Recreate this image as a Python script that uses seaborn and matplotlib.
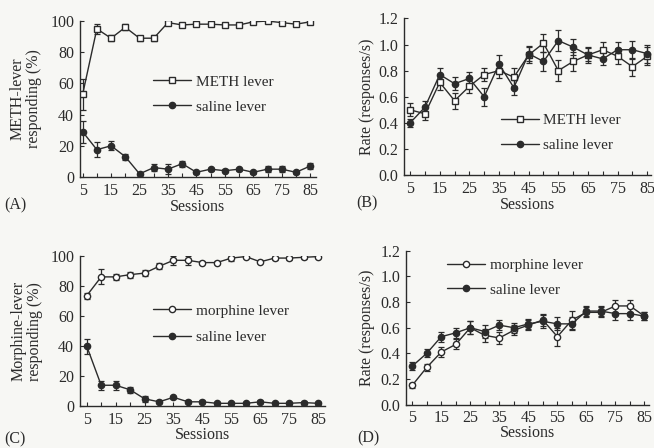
import numpy as np
import pandas as pd
import matplotlib
matplotlib.use("Agg")
import matplotlib.pyplot as plt
from matplotlib.lines import Line2D
import seaborn as sns

sns.set_theme(style="ticks")
plt.rcParams['font.family'] = ['Liberation Serif', 'DejaVu Serif']

sessions = [5, 10, 15, 20, 25, 30, 35, 40, 45, 50, 55, 60, 65, 70, 75, 80, 85]
tick_labels = [5, 15, 25, 35, 45, 55, 65, 75, 85]

# Panel A: METH discrimination, % responding
a_meth = [53, 95, 89, 96, 89, 89, 99, 97.5, 98, 98, 97.5, 97.5, 99.5, 100, 99, 98, 99.5]
a_meth_err = [10, 3, 2, 2, 1.5, 2, 1.5, 1, 1, 1, 1, 1, 1, 1, 1, 1, 1]
a_sal = [29, 17.5, 20, 13, 2, 6, 5, 8.5, 3, 5, 4, 5, 3, 5, 5, 3, 7]
a_sal_err = [7, 5, 3, 2, 1, 2, 3, 2, 1, 1, 1, 1, 1, 2, 2, 1, 2]

# Panel B: METH discrimination, rate
b_meth = [0.50, 0.47, 0.71, 0.57, 0.68, 0.77, 0.80, 0.75, 0.92, 1.01, 0.80, 0.87, 0.92, 0.96, 0.91, 0.83, 0.91]
b_meth_err = [0.05, 0.05, 0.06, 0.06, 0.05, 0.05, 0.06, 0.07, 0.06, 0.07, 0.08, 0.07, 0.05, 0.06, 0.06, 0.07, 0.07]
b_sal = [0.40, 0.52, 0.77, 0.70, 0.74, 0.60, 0.85, 0.67, 0.93, 0.87, 1.03, 0.98, 0.92, 0.89, 0.96, 0.96, 0.93]
b_sal_err = [0.03, 0.05, 0.05, 0.05, 0.05, 0.07, 0.07, 0.06, 0.06, 0.07, 0.08, 0.06, 0.06, 0.05, 0.06, 0.07, 0.07]

# Panel C: morphine discrimination, % responding
c_mor = [73.5, 86, 86, 87.5, 88.5, 93, 97, 97, 95.5, 95.5, 98.5, 99.5, 96, 98.5, 98.5, 99, 99.5]
c_mor_err = [2, 5, 2, 2, 2, 2, 3, 3, 1, 1, 2, 1, 1, 1, 1, 1, 1]
c_sal = [40, 14, 14, 11, 5, 3, 6, 3, 3, 2, 2, 2, 3, 2, 2, 2.5, 2]
c_sal_err = [5, 3, 3, 2, 2, 1, 1, 1, 1, 1, 1, 1, 1, 1, 1, 1, 1]

# Panel D: morphine discrimination, rate
d_mor = [0.15, 0.29, 0.41, 0.47, 0.60, 0.54, 0.52, 0.58, 0.62, 0.66, 0.53, 0.66, 0.72, 0.72, 0.77, 0.77, 0.69]
d_mor_err = [0.02, 0.03, 0.04, 0.04, 0.05, 0.05, 0.05, 0.04, 0.04, 0.05, 0.07, 0.07, 0.04, 0.04, 0.05, 0.05, 0.03]
d_sal = [0.30, 0.40, 0.53, 0.56, 0.60, 0.57, 0.62, 0.60, 0.63, 0.65, 0.63, 0.63, 0.73, 0.73, 0.71, 0.71, 0.69]
d_sal_err = [0.03, 0.03, 0.04, 0.04, 0.05, 0.05, 0.04, 0.04, 0.04, 0.05, 0.05, 0.05, 0.04, 0.04, 0.05, 0.05, 0.03]

INK = '#2b2b2b'
BG = '#f7f7f4'
MS = 4.5

fig = plt.figure(figsize=(6.54, 4.48), dpi=100, facecolor=BG)

def panel(rect, drug, drug_label, drug_err, sal, sal_err, drug_marker, ylim, yticks,
          yfmt, ylabel, ylab_x, letter, letter_x, letter_y, leg_anchor, leg_spacing, xlim, xlabpad):
    ax = fig.add_axes(rect)
    ax.set_facecolor(BG)
    df = pd.DataFrame({
        'Sessions': sessions * 2,
        'value': list(drug) + list(sal),
        'lever': [drug_label] * len(sessions) + ['saline lever'] * len(sessions),
    })
    for vals, errs in ((drug, drug_err), (sal, sal_err)):
        ax.errorbar(sessions, vals, yerr=errs, fmt='none', ecolor=INK,
                    elinewidth=0.9, capsize=2.0, capthick=0.9, zorder=2)
    sns.lineplot(data=df, x='Sessions', y='value', hue='lever', style='lever',
                 markers={drug_label: drug_marker, 'saline lever': 'o'},
                 dashes=False, palette={drug_label: INK, 'saline lever': INK},
                 ax=ax, linewidth=1.0, markersize=MS, markeredgecolor=INK,
                 markeredgewidth=1.0, zorder=3, legend=False)
    lines = ax.get_lines()
    lines[-2].set_markerfacecolor('white')
    lines[-1].set_markerfacecolor(INK)
    h1 = Line2D([], [], color=INK, lw=1.0, marker=drug_marker, mfc='white', mec=INK, ms=MS)
    h2 = Line2D([], [], color=INK, lw=1.0, marker='o', mfc=INK, mec=INK, ms=MS)
    ax.legend([h1, h2], [drug_label, 'saline lever'], frameon=False,
              loc='center left', bbox_to_anchor=leg_anchor, handlelength=2.5,
              handletextpad=0.3, labelspacing=leg_spacing, fontsize=11,
              labelcolor=INK, borderpad=0, borderaxespad=0)
    ax.set_xlim(*xlim)
    ax.set_ylim(*ylim)
    ax.set_xticks(sessions, minor=True)
    ax.set_xticks(tick_labels)
    ax.set_xticklabels([str(t) for t in tick_labels])
    ax.set_yticks(yticks)
    ax.set_yticklabels([yfmt.format(v) for v in yticks])
    ax.tick_params(axis='both', which='both', direction='in', colors=INK,
                   labelsize=11.5, length=3, width=0.8, pad=4)
    ax.tick_params(axis='x', which='major', pad=4)
    sns.despine(ax=ax)
    for s in ('left', 'bottom'):
        ax.spines[s].set_color(INK)
        ax.spines[s].set_linewidth(1.0)
    ax.set_xlabel('Sessions', fontsize=11.5, color=INK, labelpad=xlabpad)
    ax.set_ylabel(ylabel, fontsize=11.5, color=INK, linespacing=1.0)
    ax.yaxis.set_label_coords(ylab_x, 0.5)
    ax.text(letter_x, letter_y, letter, transform=ax.transAxes,
            fontsize=11.5, color=INK, va='center', ha='left')
    return ax

panel([0.122, 0.605, 0.361, 0.348], a_meth, 'METH lever', a_meth_err, a_sal, a_sal_err,
      's', (0, 100), [0, 20, 40, 60, 80, 100], '{:.0f}', 'METH-lever\nresponding (%)',
      -0.16, '(A)', -0.32, -0.18, (0.31, 0.53), 0.75, (4.0, 87), 0)
panel([0.618, 0.609, 0.378, 0.350], b_meth, 'METH lever', b_meth_err, b_sal, b_sal_err,
      's', (0, 1.2), [0, 0.2, 0.4, 0.6, 0.8, 1.0, 1.2], '{:.1f}', 'Rate (responses/s)',
      -0.12, '(B)', -0.195, -0.18, (0.39, 0.27), 0.75, (3.0, 86.4), 0)
panel([0.122, 0.093, 0.375, 0.336], c_mor, 'morphine lever', c_mor_err, c_sal, c_sal_err,
      'o', (0, 100), [0, 20, 40, 60, 80, 100], '{:.0f}', 'Morphine-lever\nresponding (%)',
      -0.15, '(C)', -0.31, -0.22, (0.298, 0.545), 0.85, (2.6, 87.4), -1)
panel([0.621, 0.097, 0.372, 0.343], d_mor, 'morphine lever', d_mor_err, d_sal, d_sal_err,
      'o', (0, 1.2), [0, 0.2, 0.4, 0.6, 0.8, 1.0, 1.2], '{:.1f}', 'Rate (responses/s)',
      -0.13, '(D)', -0.2, -0.22, (0.169, 0.826), 0.7, (2.9, 86.7), -1)

fig.savefig('out.png', dpi=100, facecolor=BG)
